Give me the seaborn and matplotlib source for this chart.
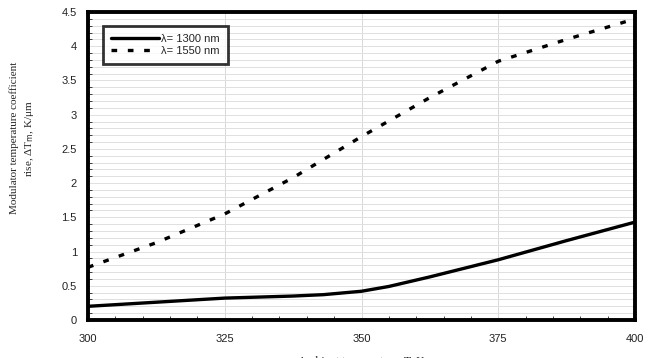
import numpy as np
import pandas as pd
import matplotlib
matplotlib.use("Agg")
import matplotlib.pyplot as plt
from matplotlib.ticker import MultipleLocator
import seaborn as sns

# Data
temp_1300 = [300, 312.5, 325, 337.5, 343, 350, 355, 362.5, 375, 387.5, 400]
coef_1300 = [0.20, 0.26, 0.32, 0.35, 0.37, 0.42, 0.49, 0.63, 0.88, 1.16, 1.43]
temp_1550 = [300, 312.5, 325, 337.5, 350, 362.5, 375, 387.5, 400]
coef_1550 = [0.77, 1.13, 1.55, 2.08, 2.68, 3.25, 3.78, 4.10, 4.40]
labels = ["λ= 1300 nm", "λ= 1550 nm"]

df = pd.concat([
    pd.DataFrame({"T": temp_1300, "dT": coef_1300, "series": labels[0]}),
    pd.DataFrame({"T": temp_1550, "dT": coef_1550, "series": labels[1]}),
])

sns.set_style("white")
plt.rcParams['font.family'] = ['Liberation Sans', 'DejaVu Sans']

fig = plt.figure(figsize=(6.48, 3.58), dpi=100)
ax = fig.add_axes([88/648, 1-320/358, (635-88)/648, (320-12)/358])

sns.lineplot(data=df, x="T", y="dT", hue="series", style="series",
             palette=["black", "black"], dashes={labels[0]: "", labels[1]: (1.7, 3.2)},
             linewidth=2.4, ax=ax, sort=False, legend=True)

ax.set_xlim(300, 400)
ax.set_ylim(0, 4.5)
ax.xaxis.set_major_locator(MultipleLocator(25))
ax.xaxis.set_minor_locator(MultipleLocator(5))
ax.yaxis.set_major_locator(MultipleLocator(0.5))
ax.yaxis.set_minor_locator(MultipleLocator(0.1))
ax.set_yticks(np.arange(0, 4.51, 0.5))
ax.set_yticklabels(["0", "0.5", "1", "1.5", "2", "2.5", "3", "3.5", "4", "4.5"])

ax.grid(True, which="major", axis="x", color="#d8d8d8", linewidth=0.7)
ax.grid(True, which="both", axis="y", color="#e0e0e0", linewidth=0.7)
ax.set_axisbelow(True)

ax.tick_params(axis="both", which="major", labelsize=8, length=0, colors="#222222")
ax.tick_params(axis="y", which="major", pad=8)
ax.tick_params(axis="x", which="major", pad=10)
ax.tick_params(axis="x", which="minor", direction="in", length=3, width=0.6, bottom=True)
ax.tick_params(axis="y", which="minor", direction="in", length=3, width=0.6, left=True)
for sp in ax.spines.values():
    sp.set_linewidth(2.8)
    sp.set_color("black")

ax.set_ylabel("Modulator temperature coefficient\nrise, ΔT$_{\\mathrm{m}}$, K/μm",
              family=["Liberation Serif", "DejaVu Serif"], fontsize=8, linespacing=1.45)
ax.yaxis.set_label_coords(-0.095, 0.59)
ax.set_xlabel("Ambient temperature, T, K", family=["Liberation Serif", "DejaVu Serif"], fontsize=8.5)
ax.xaxis.set_label_coords(0.5, -0.118)

leg = ax.legend(loc="upper left", bbox_to_anchor=(0.027, 0.955), frameon=True,
                fancybox=False, fontsize=8, handlelength=4.3, handletextpad=0.2,
                borderpad=0.75, labelspacing=0.15, borderaxespad=0)
leg.get_frame().set_edgecolor("black")
leg.get_frame().set_linewidth(2)
for line in leg.get_lines():
    line.set_linewidth(2.4)

fig.savefig("out.png", dpi=100)
